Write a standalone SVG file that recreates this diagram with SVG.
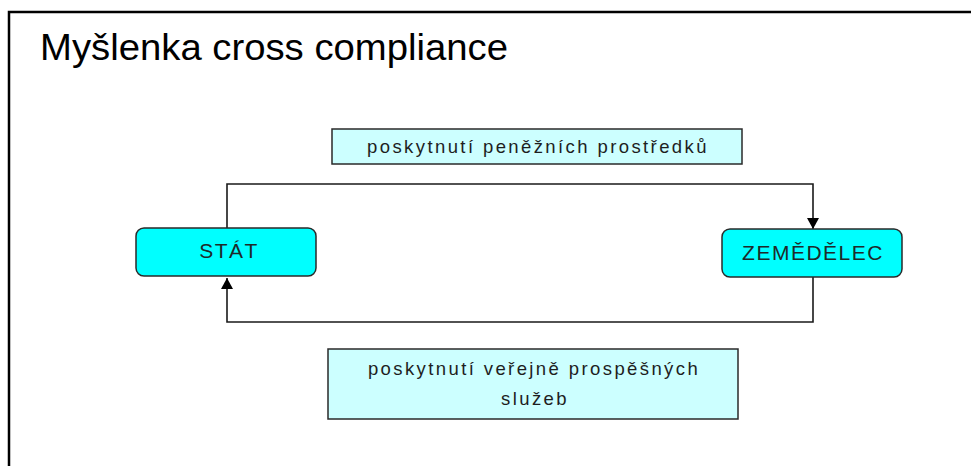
<svg xmlns="http://www.w3.org/2000/svg" width="971" height="466" viewBox="0 0 971 466">
  <style>
    .frame { fill: none; stroke: #000; stroke-width: 2.5; }
    .node rect { fill: #00FFFF; stroke: #2a2a2a; stroke-width: 1.5; }
    .label rect { fill: #CCFFFF; stroke: #2a2a2a; stroke-width: 1.5; }
    .node text { font-family: "Liberation Sans", Arial, sans-serif; font-size: 21px; fill: #1e2a2a; text-anchor: middle; letter-spacing: 1.5px; }
    .label text { font-family: "Liberation Sans", Arial, sans-serif; font-size: 18.5px; fill: #1e1e1e; text-anchor: middle; letter-spacing: 2.4px; }
    .title { font-family: "Liberation Sans", Arial, sans-serif; font-size: 36px; fill: #000; }
    .conn { fill: none; stroke: #1a1a1a; stroke-width: 1.6; }
  </style>
  <defs>
    <marker id="arrow" markerUnits="userSpaceOnUse" markerWidth="13" markerHeight="12" refX="11" refY="6" orient="auto">
      <path d="M0,0 L11,6 L0,12 Z" fill="#000"/>
    </marker>
  </defs>

  <path class="frame" d="M9,466 L9,12 L971,12"/>
  <text class="title" x="40" y="60" textLength="468" lengthAdjust="spacingAndGlyphs">Myšlenka cross compliance</text>

  <g id="connectors">
    <path class="conn" d="M227,228 L227,184 L813,184 L813,229" marker-end="url(#arrow)"/>
    <path class="conn" d="M813,277 L813,322 L227,322 L227,278" marker-end="url(#arrow)"/>
  </g>

  <g id="label-top" class="label">
    <rect x="332" y="129" width="410" height="35"/>
    <text x="538" y="153">poskytnutí peněžních prostředků</text>
  </g>

  <g id="node-stat" class="node">
    <rect x="136" y="228" width="180" height="48" rx="8" ry="8"/>
    <text x="229" y="258">STÁT</text>
  </g>

  <g id="node-zemedelec" class="node">
    <rect x="722" y="229" width="180" height="48" rx="8" ry="8"/>
    <text x="813" y="260">ZEMĚDĚLEC</text>
  </g>

  <g id="label-bottom" class="label">
    <rect x="328" y="349" width="410" height="70"/>
    <text x="534" y="375">poskytnutí veřejně prospěšných</text>
    <text x="535" y="405">služeb</text>
  </g>
</svg>
